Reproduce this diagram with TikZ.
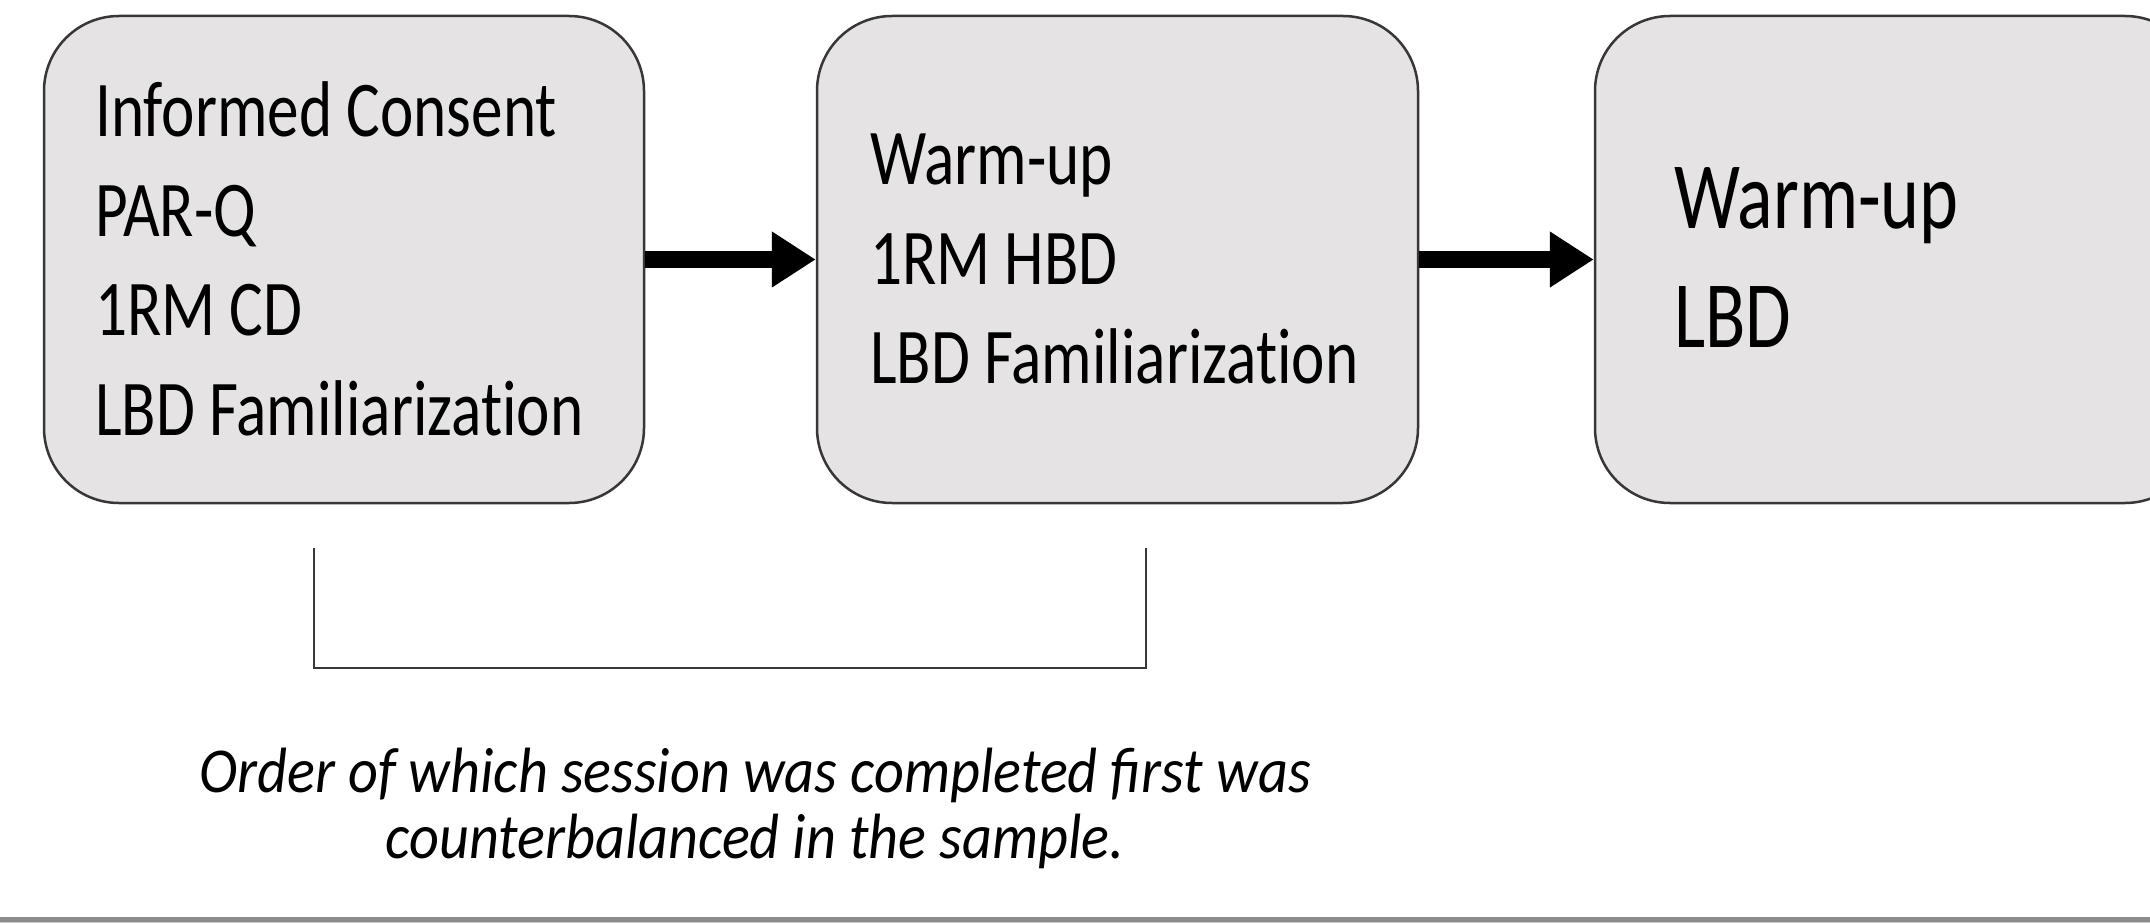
\documentclass[tikz,border=0pt]{standalone}
\usepackage{fontspec}
\setmainfont{Carlito}
\newfontfamily\boxfont[FakeStretch=0.80,Ligatures=NoCommon]{Carlito}
\newfontfamily\bigboxfont[FakeStretch=0.78,Ligatures=NoCommon]{Carlito}
\newfontfamily\capfont[FakeStretch=0.91]{Carlito}
\usetikzlibrary{arrows.meta}
\definecolor{boxfill}{RGB}{230,227,229}
\definecolor{boxline}{RGB}{55,55,55}
\definecolor{rulegray}{RGB}{140,140,140}
\definecolor{rulelight}{RGB}{200,200,200}
\begin{document}
\begin{tikzpicture}[x=1pt,y=-1pt,
  session/.style={draw=boxline, line width=2.5pt, fill=boxfill, rounded corners=75pt,
    minimum height=487pt, inner sep=0pt},
  boxtext/.style={anchor=west, align=left, inner sep=0pt},
  flow/.style={line width=17pt, -{Triangle[length=44pt,width=53pt]}},
  bracketline/.style={draw=boxline, line width=2.5pt}]
\clip (0,0) rectangle (2150,923);
\fill[white] (0,0) rectangle (2150,923);
% boxes
\node[session, minimum width=600pt] (b1) at (344,259.5) {};
\node[session, minimum width=601pt] (b2) at (1117.5,259.5) {};
\node[session, minimum width=605pt] (b3) at (1897.5,259.5) {};
% box texts
\node[boxtext, font={\boxfont\fontsize{79}{99.5}\selectfont}] (t1) at (95,259)
  {Informed Consent\\PAR-Q\\1RM CD\\LBD Familiarization};
\node[boxtext, font={\boxfont\fontsize{79}{99.5}\selectfont}] (t2) at (870,259)
  {Warm-up\\1RM HBD\\LBD Familiarization};
\node[boxtext, font={\bigboxfont\fontsize{95}{119}\selectfont}] (t3) at (1674,258)
  {Warm-up\\LBD};
% arrows
\draw[flow] (b1.east) -- (b2.west);
\draw[flow] (b2.east) -- (b3.west);
% bracket
\coordinate (lt) at (314,548);
\coordinate (lb) at (314,668);
\coordinate (rb) at (1146,668);
\coordinate (rt) at (1146,548);
\draw[bracketline] (lt) -- (lb) -- (rb) -- (rt);
% caption
\node[align=center, inner sep=0pt, font={\capfont\itshape\fontsize{64}{66}\selectfont}] (cap) at (755,808)
  {Order of which session was completed first was\\counterbalanced in the sample.};
% bottom rule
\coordinate (rl) at (0,920);
\coordinate (rr) at (2150,920);
\draw[rulegray, line width=6pt] (rl) -- (rr);
\draw[rulelight, line width=1.5pt] ([yshift=-3pt]rl) -- ([yshift=-3pt]rr);
\end{tikzpicture}
\end{document}
